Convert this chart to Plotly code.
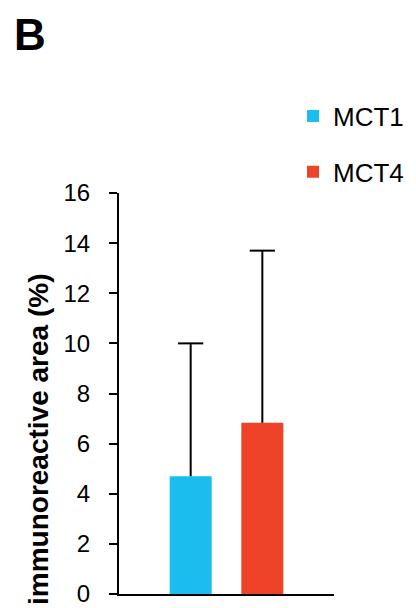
import plotly.graph_objects as go

categories = ["MCT1", "MCT4"]
means = [4.70, 6.83]
upper = [10.0, 13.7]
colors = ["#1BBDEE", "#EE4229"]
yticks = [0, 2, 4, 6, 8, 10, 12, 14, 16]
y_title = "immunoreactive area (%)"
panel_label = "B"

FONT = "Liberation Sans, Arial, sans-serif"

# plot area in figure pixels
L, R, T, B = 111, 326, 185, 586
W, H = 416, 608
pw, ph = R - L, B - T

fig = go.Figure()
for cat, m, c in zip(categories, means, colors):
    fig.add_trace(go.Bar(
        x=[cat], y=[m], name=cat, marker=dict(color=c, line=dict(width=0)),
        width=0.586, legendgroup=cat,
    ))
# error bars (upper only, no cap at bar top)
for cat, m, u in zip(categories, means, upper):
    fig.add_trace(go.Scatter(
        x=[cat, cat], y=[m, u], mode="lines", line=dict(color="black", width=2),
        showlegend=False, hoverinfo="skip",
    ))
    fig.add_trace(go.Scatter(
        x=[cat], y=[u], mode="markers",
        marker=dict(symbol="line-ew", size=18, line=dict(color="black", width=2)),
        showlegend=False, hoverinfo="skip",
    ))

fig.update_layout(
    template="none",
    width=W, height=H,
    margin=dict(l=L, r=W - R, t=T, b=H - B, autoexpand=False),
    paper_bgcolor="white", plot_bgcolor="white",
    barmode="overlay",
    font=dict(family=FONT, color="black"),
    showlegend=True,
    legend=dict(xref="paper", yref="paper", x=(285 - L) / pw, y=(B - 84.5) / ph,
                xanchor="left", yanchor="top", font=dict(size=26, family=FONT),
                traceorder="grouped", tracegroupgap=19, itemwidth=30,
                bgcolor="rgba(0,0,0,0)", borderwidth=0),
    xaxis=dict(categoryorder="array", categoryarray=categories, range=[-1, 2],
               showticklabels=False, ticks="", showgrid=False, zeroline=False,
               showline=True, linecolor="black", linewidth=2, automargin=False),
    yaxis=dict(range=[0, 16], tickvals=yticks, ticks="outside", ticklen=8,
               tickwidth=2, tickcolor="black", showgrid=False, zeroline=False,
               showline=True, linecolor="black", linewidth=2, automargin=False,
               tickfont=dict(size=24, family=FONT), ticklabelstandoff=14),
    annotations=[
        dict(text=y_title, textangle=-90, xref="paper", yref="paper",
             x=(30 - L) / pw, y=(B - 432) / ph, xanchor="center", yanchor="middle",
             showarrow=False, font=dict(size=28, family=FONT, weight="bold")),
        dict(text=panel_label, xref="paper", yref="paper",
             x=(4 - L) / pw, y=1 + T / ph, xanchor="left", yanchor="top",
             showarrow=False, font=dict(size=44, family=FONT, weight="bold")),
    ],
)

fig.write_html("out.html")
